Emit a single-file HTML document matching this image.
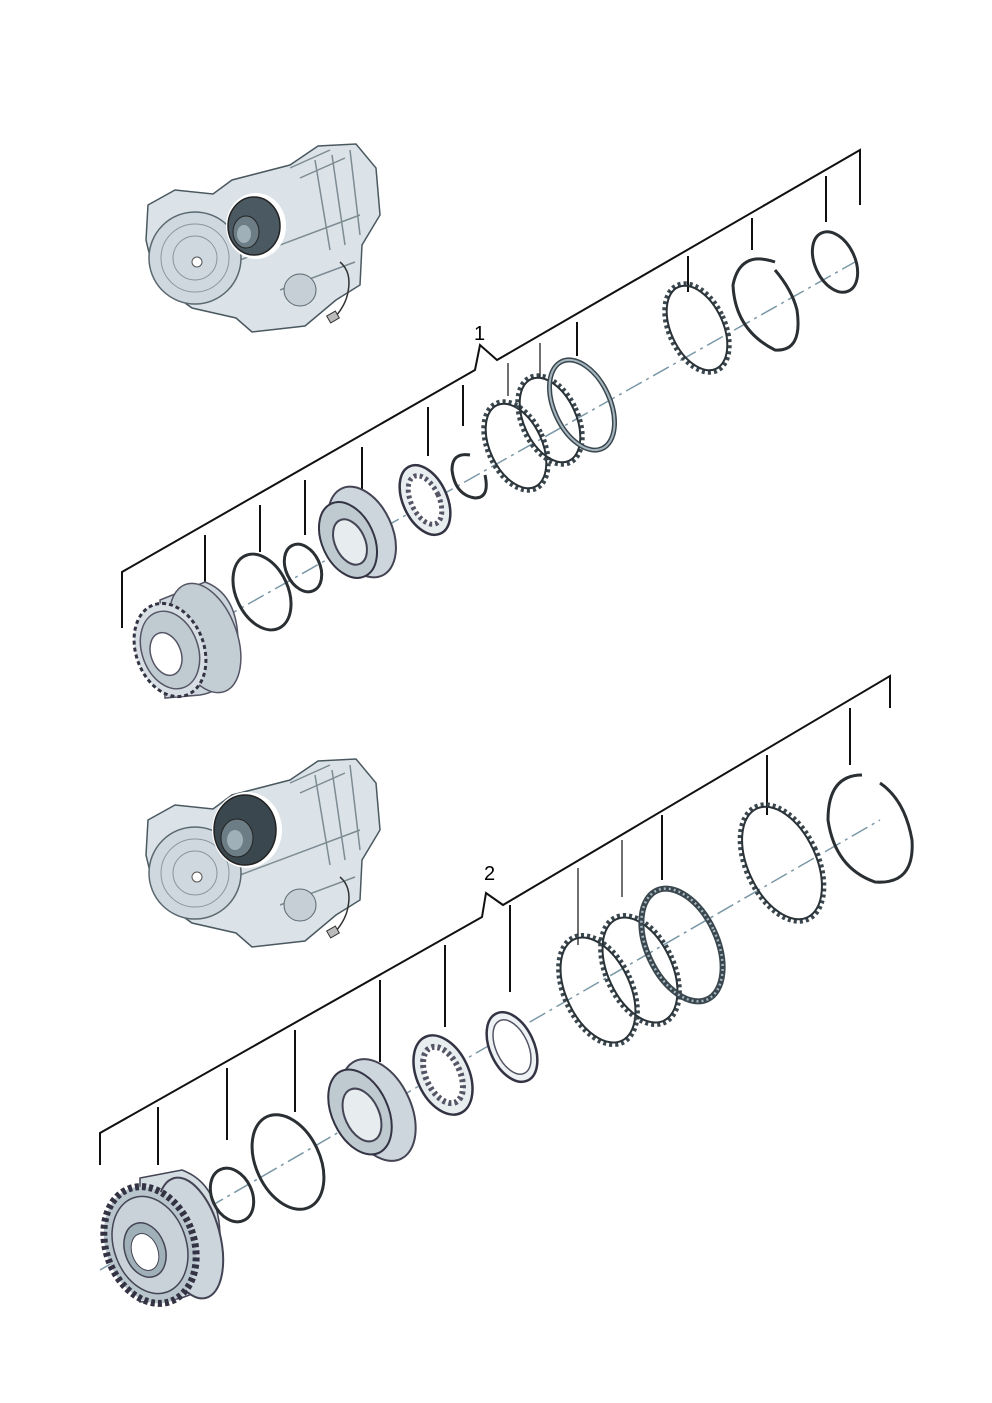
<!DOCTYPE html>
<html><head><meta charset="utf-8"><style>
html,body{margin:0;padding:0;background:#fff;}
svg{display:block;}
text{font-family:"Liberation Sans",sans-serif;}
</style></head><body>
<svg width="992" height="1403" viewBox="0 0 992 1403" xmlns="http://www.w3.org/2000/svg">
<defs>
<g id="trans">
  <polygon points="148,205 175,190 213,194 232,180 290,165 318,146 356,144 376,168 380,215 362,245 360,285 336,300 305,326 252,332 236,318 192,308 156,282 146,240" fill="#dbe3e8" stroke="#4a5860" stroke-width="1.5"/>
  <path d="M290,168 L330,150 M300,178 L345,158 M315,160 L330,250 M332,155 L345,245 M350,150 L360,235 M240,260 L360,215 M280,290 L355,262" stroke="#7d8b93" stroke-width="1.5" fill="none"/>
  <circle cx="195" cy="258" r="46" fill="#cfd8de" stroke="#5a6870" stroke-width="1.5"/>
  <circle cx="195" cy="258" r="34" fill="none" stroke="#8a979e"/>
  <circle cx="195" cy="258" r="22" fill="none" stroke="#8a979e"/>
  <circle cx="197" cy="262" r="5" fill="#fff" stroke="#555"/>
  <circle cx="300" cy="290" r="16" fill="#c5cfd5" stroke="#5a6870"/>
  <path d="M340,262 q12,10 8,30 q-2,12 -12,24" stroke="#333" stroke-width="1.5" fill="none"/>
  <rect x="328" y="313" width="10" height="8" fill="#bbb" stroke="#333" transform="rotate(-30 333 317)"/>
</g>
</defs>

<use href="#trans"/>
<ellipse cx="256" cy="226" rx="30" ry="33" fill="#fff"/>
<ellipse cx="254" cy="226" rx="26" ry="29" fill="#4b5a62" stroke="#222" stroke-width="1.5"/>
<ellipse cx="246" cy="232" rx="13" ry="16" fill="#6d7d86" stroke="#222"/>
<ellipse cx="244" cy="234" rx="7" ry="9" fill="#9fb0b8"/>

<use href="#trans" transform="translate(0,615)"/>
<ellipse cx="247" cy="830" rx="35" ry="38" fill="#fff"/>
<ellipse cx="245" cy="830" rx="31" ry="35" fill="#3a474e" stroke="#222" stroke-width="1.5"/>
<ellipse cx="237" cy="838" rx="16" ry="19" fill="#6d7d86" stroke="#222"/>
<ellipse cx="235" cy="840" rx="8" ry="10" fill="#9fb0b8"/>

<g stroke="#111" stroke-width="2" fill="none">
  <polyline points="122,628 122,572 475,370 480,345 497,360 860,150 860,205"/>
  <line x1="205" y1="535" x2="205" y2="582"/>
  <line x1="260" y1="505" x2="260" y2="552"/>
  <line x1="305" y1="480" x2="305" y2="535"/>
  <line x1="362" y1="447" x2="362" y2="507"/>
  <line x1="428" y1="407" x2="428" y2="456"/>
  <line x1="463" y1="385" x2="463" y2="426"/>
  <line x1="508" y1="363" x2="508" y2="396" stroke-width="1.2"/>
  <line x1="540" y1="343" x2="540" y2="378" stroke-width="1.2"/>
  <line x1="577" y1="322" x2="577" y2="356"/>
  <line x1="688" y1="256" x2="688" y2="292"/>
  <line x1="752" y1="218" x2="752" y2="250"/>
  <line x1="826" y1="176" x2="826" y2="222"/>
</g>
<text x="474" y="340" font-size="20">1</text>
<line x1="140" y1="665" x2="855" y2="262" stroke="#7b98a8" stroke-width="1.5" stroke-dasharray="18,5,3,5"/>

<g>
  <path d="M160,600 L205,582 Q240,595 238,650 Q232,690 200,695 L165,698 Z" fill="#cdd6dc" stroke="#556" stroke-width="1.5"/>
  <ellipse cx="205" cy="638" rx="32" ry="57" fill="#c3cdd4" stroke="#556" stroke-width="1.5" transform="rotate(-20 205 638)"/>
  <ellipse cx="170" cy="650" rx="34" ry="48" fill="#d7dfe4" stroke="#334" stroke-width="3" stroke-dasharray="4,3" transform="rotate(-20 170 650)"/>
  <ellipse cx="170" cy="650" rx="28" ry="40" fill="#c0cad1" stroke="#556" stroke-width="1.5" transform="rotate(-20 170 650)"/>
  <ellipse cx="166" cy="654" rx="15" ry="22" fill="#fff" stroke="#556" stroke-width="1.5" transform="rotate(-20 166 654)"/>
</g>
<ellipse cx="262" cy="592" rx="26" ry="40" fill="none" stroke="#2a2f33" stroke-width="3" transform="rotate(-25 262 592)"/>
<ellipse cx="303" cy="568" rx="17" ry="25" fill="none" stroke="#2a2f33" stroke-width="3" transform="rotate(-25 303 568)"/>
<g>
  <ellipse cx="362" cy="532" rx="30" ry="48" fill="#cdd6dc" stroke="#445" stroke-width="2" transform="rotate(-25 362 532)"/>
  <ellipse cx="348" cy="540" rx="26" ry="40" fill="#bfc9d0" stroke="#334" stroke-width="2" transform="rotate(-25 348 540)"/>
  <ellipse cx="350" cy="542" rx="15" ry="24" fill="#e7ecef" stroke="#445" stroke-width="2" transform="rotate(-25 350 542)"/>
</g>
<ellipse cx="425" cy="500" rx="22" ry="37" fill="#e8edf0" stroke="#334" stroke-width="2.5" transform="rotate(-25 425 500)"/>
<ellipse cx="425" cy="500" rx="14" ry="26" fill="#fff" stroke="#556" stroke-width="5" stroke-dasharray="3,3" transform="rotate(-25 425 500)"/>
<path d="M470,455 Q452,452 452,470 Q455,495 475,498 Q490,498 485,475" fill="none" stroke="#2a2f33" stroke-width="3"/>
<g fill="none">
<ellipse cx="516" cy="446" rx="28" ry="47" stroke="#3a474e" stroke-width="5" stroke-dasharray="3,3" transform="rotate(-25 516 446)"/>
<ellipse cx="516" cy="446" rx="26" ry="45" stroke="#2a3338" stroke-width="2" transform="rotate(-25 516 446)"/>
<ellipse cx="550" cy="420" rx="28" ry="47" stroke="#3a474e" stroke-width="5" stroke-dasharray="3,3" transform="rotate(-25 550 420)"/>
<ellipse cx="550" cy="420" rx="26" ry="45" stroke="#2a3338" stroke-width="2" transform="rotate(-25 550 420)"/>
<ellipse cx="582" cy="405" rx="28" ry="48" stroke="#3a474e" stroke-width="5" transform="rotate(-25 582 405)"/>
<ellipse cx="582" cy="405" rx="28" ry="48" stroke="#a6b6bf" stroke-width="2" transform="rotate(-25 582 405)"/>
<ellipse cx="697" cy="328" rx="28" ry="47" stroke="#3a474e" stroke-width="5" stroke-dasharray="3,3" transform="rotate(-25 697 328)"/>
<ellipse cx="697" cy="328" rx="26" ry="45" stroke="#2a3338" stroke-width="2" transform="rotate(-25 697 328)"/>
</g>
<path d="M775,262 Q740,250 733,285 Q735,330 775,350 Q803,352 797,310 Q792,290 775,270" fill="none" stroke="#2a2f33" stroke-width="3"/>
<ellipse cx="835" cy="262" rx="20" ry="32" fill="none" stroke="#2a2f33" stroke-width="3" transform="rotate(-25 835 262)"/>

<g stroke="#111" stroke-width="2" fill="none">
  <polyline points="100,1165 100,1133 482,917 486,893 503,905 890,676 890,708"/>
  <line x1="158" y1="1107" x2="158" y2="1165"/>
  <line x1="227" y1="1068" x2="227" y2="1140"/>
  <line x1="295" y1="1030" x2="295" y2="1112"/>
  <line x1="380" y1="980" x2="380" y2="1062"/>
  <line x1="445" y1="945" x2="445" y2="1027"/>
  <line x1="510" y1="905" x2="510" y2="992"/>
  <line x1="578" y1="868" x2="578" y2="945" stroke-width="1.2"/>
  <line x1="622" y1="840" x2="622" y2="897" stroke-width="1.2"/>
  <line x1="662" y1="815" x2="662" y2="880"/>
  <line x1="767" y1="755" x2="767" y2="815"/>
  <line x1="850" y1="708" x2="850" y2="765"/>
</g>
<text x="484" y="880" font-size="20">2</text>
<line x1="100" y1="1270" x2="880" y2="820" stroke="#7b98a8" stroke-width="1.5" stroke-dasharray="18,5,3,5"/>

<g>
  <path d="M140,1178 L182,1170 Q222,1185 220,1245 Q215,1295 170,1300 L140,1302 Z" fill="#d4dde2" stroke="#445" stroke-width="1.5"/>
  <ellipse cx="190" cy="1238" rx="30" ry="62" fill="#cbd5db" stroke="#445" stroke-width="2" transform="rotate(-15 190 1238)"/>
  <ellipse cx="150" cy="1245" rx="44" ry="60" fill="#b9c5cc" stroke="#334" stroke-width="7" stroke-dasharray="4,3" transform="rotate(-20 150 1245)"/>
  <ellipse cx="150" cy="1245" rx="36" ry="50" fill="#c8d2d8" stroke="#445" stroke-width="1.5" transform="rotate(-20 150 1245)"/>
  <ellipse cx="145" cy="1250" rx="20" ry="28" fill="#a0b0b8" stroke="#445" stroke-width="1.5" transform="rotate(-20 145 1250)"/>
  <ellipse cx="145" cy="1252" rx="13" ry="19" fill="#fff" stroke="#445" transform="rotate(-20 145 1252)"/>
</g>
<ellipse cx="232" cy="1195" rx="20" ry="28" fill="none" stroke="#2a2f33" stroke-width="3" transform="rotate(-25 232 1195)"/>
<ellipse cx="288" cy="1162" rx="32" ry="50" fill="none" stroke="#2a2f33" stroke-width="3" transform="rotate(-25 288 1162)"/>
<g>
  <ellipse cx="378" cy="1110" rx="33" ry="54" fill="#cdd6dc" stroke="#445" stroke-width="2" transform="rotate(-25 378 1110)"/>
  <ellipse cx="360" cy="1112" rx="28" ry="45" fill="#bfc9d0" stroke="#334" stroke-width="2" transform="rotate(-25 360 1112)"/>
  <ellipse cx="362" cy="1115" rx="17" ry="28" fill="#e7ecef" stroke="#445" stroke-width="2" transform="rotate(-25 362 1115)"/>
</g>
<ellipse cx="443" cy="1075" rx="26" ry="42" fill="#e8edf0" stroke="#334" stroke-width="2.5" transform="rotate(-25 443 1075)"/>
<ellipse cx="443" cy="1075" rx="17" ry="30" fill="#fff" stroke="#556" stroke-width="6" stroke-dasharray="3,3" transform="rotate(-25 443 1075)"/>
<ellipse cx="512" cy="1047" rx="22" ry="37" fill="#eef2f4" stroke="#334" stroke-width="2.5" transform="rotate(-25 512 1047)"/>
<ellipse cx="512" cy="1047" rx="16" ry="29" fill="#fff" stroke="#556" stroke-width="1.5" transform="rotate(-25 512 1047)"/>
<g fill="none">
<ellipse cx="598" cy="990" rx="34" ry="58" stroke="#3a474e" stroke-width="5" stroke-dasharray="3,3" transform="rotate(-25 598 990)"/>
<ellipse cx="598" cy="990" rx="32" ry="56" stroke="#2a3338" stroke-width="2" transform="rotate(-25 598 990)"/>
<ellipse cx="640" cy="970" rx="34" ry="58" stroke="#3a474e" stroke-width="5" stroke-dasharray="3,3" transform="rotate(-25 640 970)"/>
<ellipse cx="640" cy="970" rx="32" ry="56" stroke="#2a3338" stroke-width="2" transform="rotate(-25 640 970)"/>
<ellipse cx="682" cy="945" rx="35" ry="60" stroke="#3a474e" stroke-width="6" transform="rotate(-25 682 945)"/>
<ellipse cx="682" cy="945" rx="35" ry="60" stroke="#a6b6bf" stroke-width="2.5" stroke-dasharray="2,3" transform="rotate(-25 682 945)"/>
<ellipse cx="782" cy="863" rx="36" ry="62" stroke="#3a474e" stroke-width="5" stroke-dasharray="3,3" transform="rotate(-25 782 863)"/>
<ellipse cx="782" cy="863" rx="34" ry="60" stroke="#2a3338" stroke-width="2" transform="rotate(-25 782 863)"/>
</g>
<path d="M862,775 Q828,775 828,820 Q835,868 875,882 Q915,885 912,840 Q905,800 880,783" fill="none" stroke="#2a2f33" stroke-width="3"/>
</svg>
</body></html>
